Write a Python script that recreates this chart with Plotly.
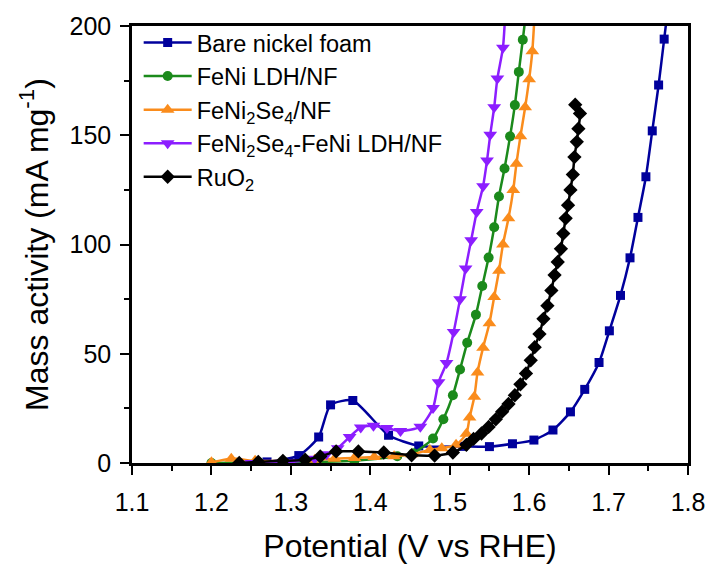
import plotly.graph_objects as go

# ---- data ----
names = ["Bare nickel foam", "FeNi LDH/NF", "FeNi<sub>2</sub>Se<sub>4</sub>/NF",
         "FeNi<sub>2</sub>Se<sub>4</sub>-FeNi LDH/NF", "RuO<sub>2</sub>"]

bare_x = [1.27, 1.31, 1.335, 1.35, 1.378, 1.423, 1.461, 1.517, 1.550, 1.579, 1.606,
          1.630, 1.652, 1.670, 1.688, 1.701, 1.715, 1.727, 1.737, 1.747, 1.755,
          1.763, 1.770, 1.774]
bare_y = [0.5, 3.4, 11.9, 26.6, 28.6, 12.7, 7.8, 7.6, 7.5, 8.8, 10.5,
          15.1, 23.4, 33.7, 46, 60.5, 76.7, 93.9, 112.4, 131, 152,
          173, 194, 206]

ldh_x = [1.20, 1.26, 1.32, 1.38, 1.434, 1.454, 1.479, 1.492, 1.504, 1.513, 1.522,
         1.533, 1.541, 1.549, 1.556, 1.562, 1.569, 1.576, 1.582, 1.587, 1.592, 1.596]
ldh_y = [0.0, 0.2, 0.4, 1.0, 3.1, 4.5, 11.2, 20, 31, 42.8, 55,
         67.9, 81, 94, 107.9, 122, 134.8, 149.5, 163.8, 179, 193.7, 206]

se_x = [1.20, 1.225, 1.255, 1.29, 1.33, 1.355, 1.380, 1.405, 1.430, 1.452, 1.475,
        1.490, 1.508, 1.521, 1.525, 1.531, 1.535, 1.542, 1.550, 1.556, 1.562,
        1.567, 1.574, 1.580, 1.584, 1.589, 1.595, 1.600, 1.604, 1.607]
se_y = [0.3, 2.0, 1.0, 1.0, 1.5, 2.0, 2.3, 2.8, 3.1, 4.0, 6.0,
        6.8, 8.3, 13.4, 20.8, 30.3, 41.4, 52.8, 64, 76, 88,
        100, 112, 125, 137, 149.5, 162.8, 175.6, 188.5, 206]

het_x = [1.25, 1.30, 1.33, 1.345, 1.359, 1.374, 1.388, 1.404, 1.421, 1.438, 1.463,
         1.479, 1.486, 1.496, 1.505, 1.513, 1.520, 1.527, 1.534, 1.542, 1.547,
         1.551, 1.556, 1.560, 1.567, 1.570]
het_y = [0.0, 0.5, 2.0, 4.0, 6.8, 11.9, 16.3, 17.1, 16.0, 14.6, 16.6,
         25.2, 37, 45.8, 60, 75, 89, 102, 114.9, 126.7, 138.5,
         150.2, 162.8, 176, 190, 206]

ruo_x = [1.235, 1.259, 1.29, 1.318, 1.337, 1.357, 1.385, 1.417, 1.452, 1.481, 1.504,
         1.521, 1.530, 1.540, 1.549, 1.558, 1.566, 1.574, 1.582, 1.589, 1.596,
         1.602, 1.607, 1.613, 1.618, 1.623, 1.628, 1.632, 1.636, 1.640, 1.643,
         1.646, 1.649, 1.652, 1.655, 1.657, 1.660, 1.662, 1.664, 1.658]
ruo_y = [0.0, 0.5, 1.0, 1.5, 3.0, 5.3, 5.3, 4.8, 3.5, 3.4, 4.8,
         8.3, 11, 13.5, 16.5, 20, 23.5, 27, 31, 36, 41,
         47, 53, 59, 66, 72, 79, 86, 92, 98, 105,
         112, 118, 125, 132, 140, 147, 153, 160, 164]

x_ticks = [1.1, 1.2, 1.3, 1.4, 1.5, 1.6, 1.7, 1.8]
y_ticks = [0, 50, 100, 150, 200]

# ---- styles ----
series = [
    (bare_x, bare_y, "#00009C", "square", 9),
    (ldh_x, ldh_y, "#1B8A1B", "circle", 10),
    (se_x, se_y, "#FA8C1C", "triangle-up", 12),
    (het_x, het_y, "#8C1EFF", "triangle-down", 12),
    (ruo_x, ruo_y, "#000000", "diamond", 11),
]

FONT = "Arial, Liberation Sans, sans-serif"
fig = go.Figure()
for (xs, ys, col, sym, sz), nm in zip(series, names):
    fig.add_trace(go.Scatter(
        x=xs, y=ys, name=nm, mode="lines+markers",
        line=dict(color=col, width=2.5, shape="spline", smoothing=0.6),
        marker=dict(symbol=sym, size=sz, color=col, line=dict(width=0)),
        cliponaxis=True,
    ))

axis_common = dict(
    showline=True, linecolor="black", linewidth=2.5, mirror=True,
    ticks="outside", ticklen=9, tickwidth=2, tickcolor="black",
    showgrid=False, zeroline=False,
    tickfont=dict(family=FONT, size=25, color="black"),
)

fig.update_xaxes(
    range=[1.1, 1.8], tickvals=x_ticks, ticktext=[f"{v:.1f}" for v in x_ticks],
    minor=dict(dtick=0.05, ticks="outside", ticklen=5, tickwidth=2, tickcolor="black", showgrid=False),
    title=dict(text="Potential (V vs RHE)", font=dict(family=FONT, size=32, color="black"), standoff=20),
    ticklabelstandoff=6,
    **axis_common,
)
fig.update_yaxes(
    range=[0, 200], tickvals=y_ticks,
    minor=dict(dtick=25, ticks="outside", ticklen=5, tickwidth=2, tickcolor="black", showgrid=False),
    title=dict(text="Mass activity (mA mg<sup>-1</sup>)", font=dict(family=FONT, size=32, color="black"), standoff=12),
    ticklabelstandoff=4,
    **axis_common,
)

fig.update_layout(
    width=717, height=570,
    margin=dict(l=132, r=23, t=24, b=93),
    paper_bgcolor="white", plot_bgcolor="white",
    showlegend=True,
    legend=dict(x=0.012, y=1.012, xanchor="left", yanchor="top",
                bgcolor="rgba(0,0,0,0)", borderwidth=0,
                font=dict(family=FONT, size=23.5, color="black"),
                tracegroupgap=0, itemwidth=48),
)

fig.write_html("out.html")
